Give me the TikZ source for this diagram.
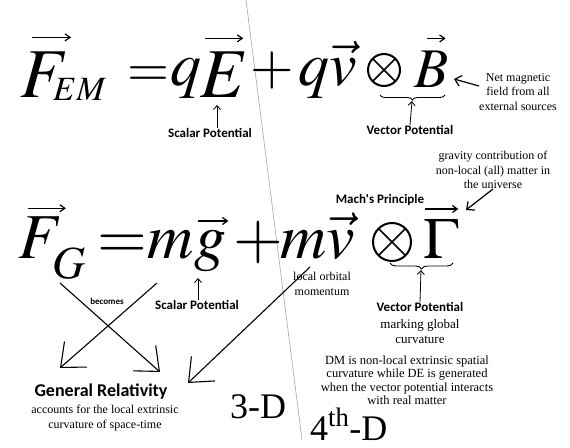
\documentclass[tikz,border=0pt]{standalone}
\usepackage{mathptmx}
\usepackage{fontspec}
\setmainfont{Liberation Serif}
\newfontfamily\calib{Carlito}
\usetikzlibrary{arrows.meta,positioning,calc,decorations.pathreplacing}
\tikzset{
  sym/.style={inner sep=0pt,anchor=base west,font=\fontsize{#1}{#1}\selectfont},
  sym/.default=70,
  cross/.style={circle,draw,line width=2pt,inner sep=0pt,minimum size=#1,
    path picture={\draw[line width=1.6pt] (path picture bounding box.north west) -- (path picture bounding box.south east)
      (path picture bounding box.north east) -- (path picture bounding box.south west);}},
  vecarr/.style={-{Straight Barb[length=5pt,width=7pt]},line width=1.2pt},
  tag/.style={inner sep=0pt,align=center,font=\calib\bfseries\fontsize{13}{15}\selectfont},
  note/.style={inner sep=0pt,align=center,font=\fontsize{12}{14.5}\selectfont},
  uparr/.style={-{Straight Barb[length=4pt,width=7pt]},line width=0.8pt},
  ptr/.style={-{Straight Barb[length=6pt,width=11pt]},line width=1.2pt},
  bigarr/.style={-{Straight Barb[length=20pt,width=34pt]},line width=1.1pt},
  ubrace/.style={decorate,decoration={brace,mirror,amplitude=5pt},line width=0.9pt}
}

\begin{document}
\begin{tikzpicture}[x=1pt,y=-1pt]
  \useasboundingbox[fill=white] (0,0) rectangle (570,447);
  % dividing line 3-D / 4th-D
  \draw[gray!70,line width=0.6pt] (246,0) -- (302,440);

  % electromagnetic force
  \node[sym] (F1) at (20,97) {$F$};
  \node[sym=34] (em) at (53,100) {$EM$};
  \node[sym=54] (eqa) at (127,86) {$=$};
  \node[sym=62] (q1) at (170,85) {$q$};
  \node[sym] (E1) at (200,97) {$E$};
  \node[sym=56] (plus1) at (250,84) {$+$};
  \node[sym=62] (qv1) at (298,85) {$q\vec{v}$};
  \node[cross=32pt] (ot1) at (384,70) {};
  \node[sym=56] (B1) at (414,87) {$B$};
  \draw[vecarr] ([shift={(12,-14)}]F1.north west) -- ([shift={(2,-14)}]F1.north east);
  \draw[vecarr] ([shift={(5,-13)}]E1.north west) -- ([shift={(-5,-13)}]E1.north east);
  \draw[vecarr] ([shift={(13,-12)}]B1.north west) -- ([shift={(-3,-12)}]B1.north east);

  % gravitational force
  \node[sym=64] (F2) at (18,258) {$F$};
  \node[sym=46] (gsub) at (52,278) {$G$};
  \node[sym=64] (eqb) at (97,258) {$=$};
  \node[sym=64] (m1) at (147,258) {$m$};
  \node[sym=64] (g1) at (194,258) {$g$};
  \node[sym=64] (plus2) at (233,258) {$+$};
  \node[sym=64] (mv2) at (280,258) {$m\vec{v}$};
  \node[cross=38pt] (ot2) at (392,242) {};
  \node[sym=58] (G1) at (423,258) {$\Gamma$};
  \draw[vecarr] ([shift={(10,-8)}]F2.north west) -- ([shift={(3,-8)}]F2.north east);
  \draw[vecarr] ([shift={(4,-9)}]g1.north west) -- ([shift={(2,-9)}]g1.north east);
  \draw[vecarr] ([shift={(2,-10)}]G1.north west) -- ([shift={(0,-10)}]G1.north east);

  % labels
  \node[tag] (sp1) at (210,133) {Scalar Potential};
  \node[tag] (vp1) at (410,130) {Vector Potential};
  \node[note] (nm) at (518,92) {Net magnetic\\field from all\\external sources};
  \node[tag] (mp) at (380,200) {Mach's Principle};
  \node[note] (gc) at (493,170) {gravity contribution of\\non-local (all) matter in\\the universe};
  \node[note] (lo) at (322,284) {local orbital\\momentum};
  \node[tag] (sp2) at (197,305) {Scalar Potential};
  \node[tag] (vp2) at (420,307) {Vector Potential};
  \node[note,font=\fontsize{13}{15}\selectfont] (mg) at (420,332) {marking global\\curvature};
  \node[note,font=\fontsize{12.5}{13.5}\selectfont] (dm) at (407,380) {DM is non-local extrinsic spatial\\curvature while DE is generated\\when the vector potential interacts\\with real matter};
  \node[tag,font=\calib\bfseries\fontsize{9}{10}\selectfont] (bec) at (107,301) {becomes};
  \node[tag,font=\calib\bfseries\fontsize{18}{20}\selectfont] (gr) at (101,392) {General Relativity};
  \node[note] (acc) at (105,418) {accounts for the local extrinsic\\curvature of space-time};
  \node[sym=36] (d3) at (230,418) {3-D};
  \node[sym=36] (d4) at (310,440) {4\textsuperscript{th}-D};

  % braces
  \draw[ubrace] (380,95) -- (445,95);
  \coordinate (br1) at (412,101);
  \draw[ubrace,decoration={amplitude=6pt}] (390,263) -- (453,263);
  \coordinate (br2) at (421,270);

  % pointer tips on the equations
  \coordinate (Etip) at (217,105);
  \coordinate (gtip) at (198,278);
  \coordinate (Btip) at (454,79);
  \coordinate (Gtip) at (466,210);

  \draw[uparr] (sp1.north -| Etip) -- (Etip);
  \draw[uparr] (vp1.north) -- (br1);
  \draw[uparr] (sp2.north -| gtip) -- (gtip);
  \draw[uparr] (vp2.north) -- (br2);
  \draw[ptr] ([yshift=6pt]nm.west) -- (Btip);
  \draw[ptr] (gc.south) -- (Gtip);

  % becomes General Relativity
  \coordinate (s1) at (60,283);
  \coordinate (s2) at (157,283);
  \coordinate (s3) at (310,267);
  \draw[bigarr] (s1) -- ([shift={(59,-20)}]gr.center);
  \draw[bigarr] (s2) -- ([shift={(-41,-24)}]gr.center);
  \draw[bigarr] (s3) -- ([shift={(87,-9)}]gr.center);
\end{tikzpicture}
\end{document}
